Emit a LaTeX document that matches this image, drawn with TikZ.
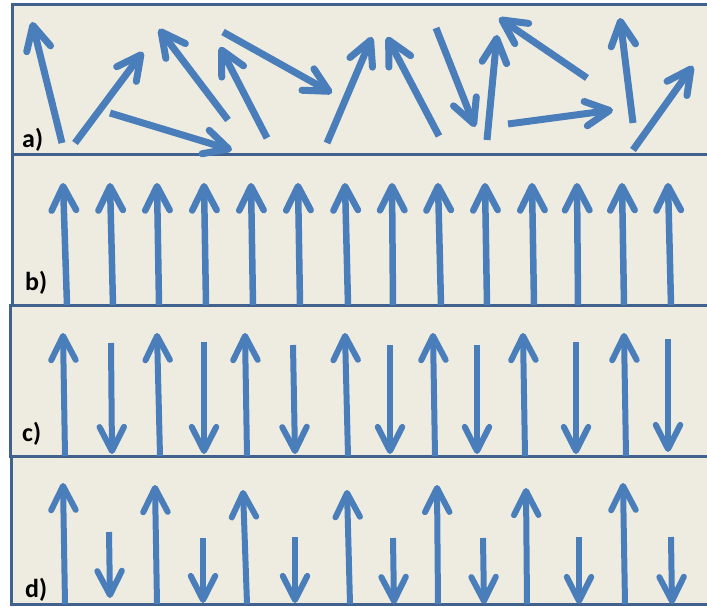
\documentclass[tikz,border=0pt]{standalone}
\usepackage{fontspec}
\setmainfont{Carlito}
\usetikzlibrary{calc}
\definecolor{bgbeige}{HTML}{EEECE1}
\definecolor{frameblue}{HTML}{41628E}
\definecolor{spinblue}{HTML}{4A7EBB}
\tikzset{
  panel/.style={fill=bgbeige, draw=frameblue, line width=3pt},
  label/.style={font=\bfseries\fontsize{26}{26}\selectfont, anchor=base west, inner sep=0pt, text=black},
}
% #1 line width (px), #2 tail, #3 visible tip
\newcommand\spin[3][6]{%
  \coordinate (T) at (#2);
  \coordinate (P) at (#3);
  \coordinate (V) at ($(P)!#1*0.5pt!(T)$);
  \draw[line width=#1pt, spinblue, line cap=butt] (T) -- (V);
  \draw[line width=#1pt, spinblue, line cap=round, line join=round]
    ($(V)!27pt!27:(T)$) -- (V) -- ($(V)!27pt!-27:(T)$);
}
\begin{document}
\begin{tikzpicture}[x=1pt,y=-1pt]
\useasboundingbox (0,0) rectangle (707,607);
\begin{scope}
\clip (0,0) rectangle (707,607);
\draw[panel] (12,5) rectangle (730,155);
\draw[panel] (12.5,155) rectangle (730,305);
\draw[panel] (10.5,305) rectangle (730,456);
\draw[panel] (11.5,456) rectangle (730,604);

% panel a
\spin[7]{62,143}{32,22}
\spin[7]{75,143}{143,52}
\spin[7]{110,113}{232,150}
\spin[7]{228,120}{159,29}
\spin[7]{267,138}{220,47}
\spin[7]{223,32}{332,93}
\spin[7]{327,143}{372,37}
\spin[7]{439,136}{387,37}
\spin[7]{436,28}{475,127}
\spin[7]{487,140}{497,35}
\spin[7]{587,78}{499,18}
\spin[7]{508,124}{613,110}
\spin[7]{633,123}{620,18}
\spin[7]{633,150}{693,66}

% panel b
\foreach \xb/\xt in {67/63,113/110,159/157,206/204,253/251,300/298,348/345,393/392,441/438,487/485,534/532,578/577,624/622,671/668}{
  \spin[6.5]{\xb,305}{\xt,183}
}

% panel c
\foreach \xb/\xt in {65/63,160/157,247/245,348/345,435/433,525/523,626/624}{
  \spin[6]{\xb,456}{\xt,333}
}
\foreach \xa/\ya/\xt/\yt in {111/343/112/454,204/342/204/454,293/345/295/454,390/345/390/454,477/345/477/454,576/342/576/454,668/339/668/452}{
  \spin[6]{\xa,\ya}{\xt,\yt}
}

% panel d
\foreach \xb/\xt/\yt in {65/63/483,157/155/485,247/243/490,350/347/490,438/437/485,527/526/488,625/623/483}{
  \spin[6]{\xb,604}{\xt,\yt}
}
\foreach \xa/\ya/\xt/\yt in {109/532/110/598,203/538/203/603,295/537/295/603,393/538/394/604,483/538/484/604,579/537/579/604,671/537/672/604}{
  \spin[6]{\xa,\ya}{\xt,\yt}
}
\end{scope}

\node[label] (la) at (22,148) {a)};
\node[label] (lb) at (25,290) {b)};
\node[label] (lc) at (22,441) {c)};
\node[label] (ld) at (25,597) {d)};
\end{tikzpicture}
\end{document}
